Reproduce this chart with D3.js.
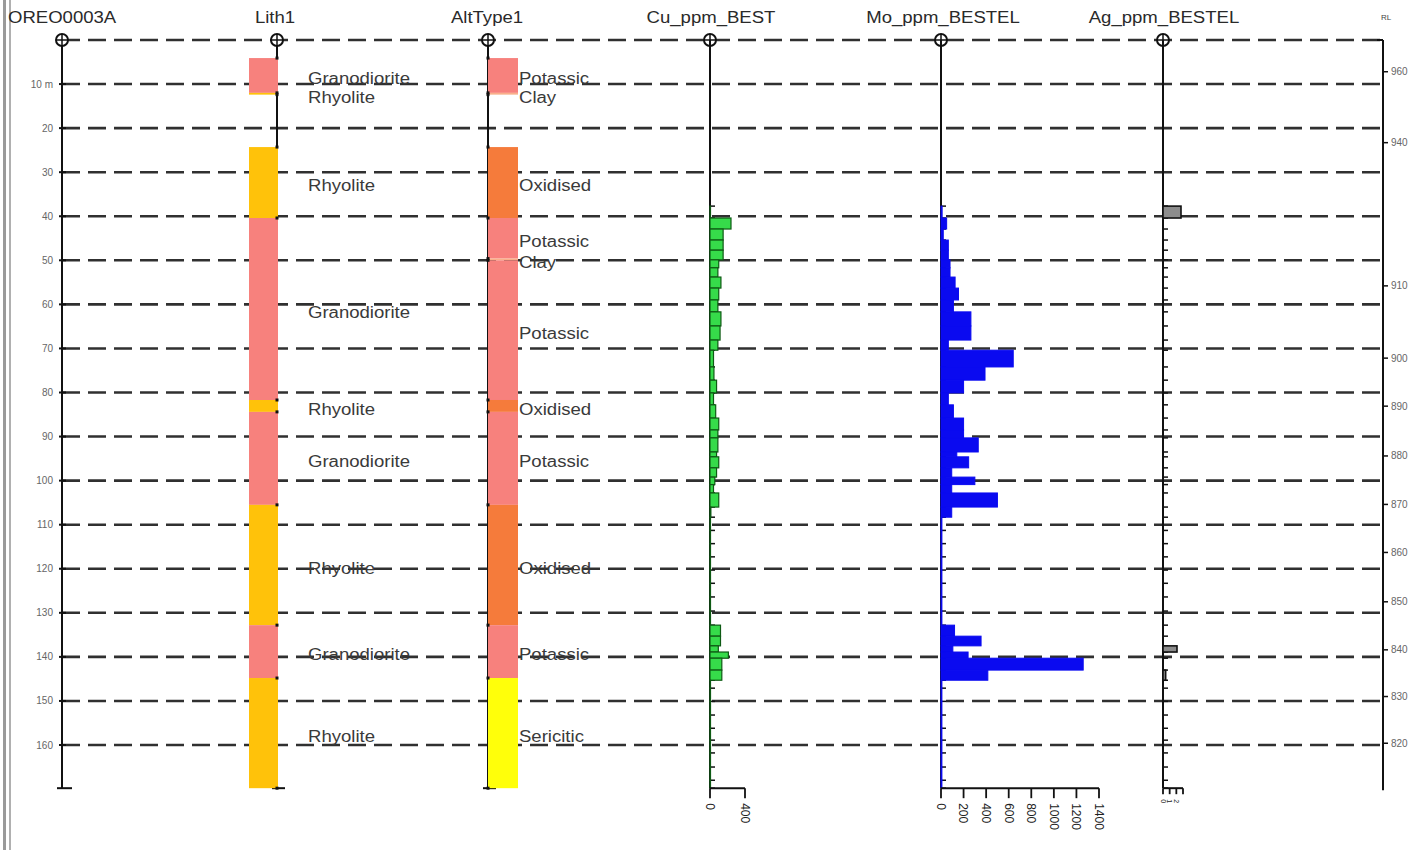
<!DOCTYPE html>
<html><head><meta charset="utf-8">
<script src="https://cdn.jsdelivr.net/npm/d3@7"></script>
<style>body{margin:0;background:#fff;} svg{display:block;} text{font-family:"Liberation Sans",Arial,sans-serif;}</style>
</head><body><svg id="c" width="1421" height="850"></svg>
<script>
// ---------------- DATA ----------------
const columnTitles = ["OREO0003A","Lith1","AltType1","Cu_ppm_BEST","Mo_ppm_BESTEL","Ag_ppm_BESTEL"];
const depthTicks = [10,20,30,40,50,60,70,80,90,100,110,120,130,140,150,160];
const depthTickLabels = ["10 m","20","30","40","50","60","70","80","90","100","110","120","130","140","150","160"];
const holeDepth = 169.8;

const lithFrom = [4.1, 12.0, 24.3, 40.4, 81.7, 84.4, 105.5, 132.8, 144.8];
const lithTo   = [12.0, 12.4, 40.4, 81.7, 84.4, 105.5, 132.8, 144.8, 169.8];
const lithCode = ["Granodiorite","Rhyolite","Rhyolite","Granodiorite","Rhyolite","Granodiorite","Rhyolite","Granodiorite","Rhyolite"];

const altFrom = [4.1, 12.0, 24.3, 40.4, 49.6, 50.0, 81.7, 84.4, 105.5, 132.8, 144.8];
const altTo   = [12.0, 12.4, 40.4, 49.6, 50.0, 81.7, 84.4, 105.5, 132.8, 144.8, 169.8];
const altCode = ["Potassic","Clay","Oxidised","Potassic","Clay","Potassic","Oxidised","Potassic","Oxidised","Potassic","Sericitic"];

const lithColors = {"Granodiorite":"#F7817D","Rhyolite":"#FFC20A"};
const altColors = {"Potassic":"#F7817D","Clay":"#F9B08A","Oxidised":"#F57B3B","Sericitic":"#FFFF0A"};

const sampleDepths = [37.7,40.4,42.9,45.4,47.7,49.9,51.7,53.8,56.3,59.0,61.7,64.9,68.1,70.4,74.2,77.2,80.1,82.8,85.8,88.5,90.3,93.5,94.6,97.1,99.2,100.9,102.8,106.0,108.3,111.3,114.3,117.3,120.3,123.3,126.4,129.6,132.8,135.3,137.5,138.9,140.3,143.0,145.3,147.1,150.1,153.2,156.2,158.9,161.8,165.0,168.0,169.8];
const cuPpm = [5,240,150,150,150,100,90,125,100,90,125,115,90,40,45,75,40,65,100,90,90,75,100,75,55,40,100,10,5,5,5,5,5,5,5,5,120,120,95,210,135,135,5,5,5,5,5,5,5,5,5];
const moPpm = [10,50,20,65,65,80,80,125,155,110,265,265,65,640,390,200,65,110,200,200,330,140,245,95,300,95,500,95,8,8,8,8,8,8,8,8,120,355,105,240,1260,415,8,8,8,8,8,8,8,8,8];
const agPpm = [2.7,0,0,0,0,0,0,0,0,0,0,0,0,0,0,0,0,0,0,0,0,0,0,0,0,0,0,0,0,0,0,0,0,0,0,0,0,0,2.1,0,0,0.4,0,0,0,0,0,0,0,0,0];

const cuTicks = [0,400];
const moTicks = [0,200,400,600,800,1000,1200,1400];
const agTicks = [0,1,2,3];
const agTickLabels = ["0","1","2",""];

const rlDepth = [7.2,23.3,55.8,72.2,83.1,94.4,105.4,116.3,127.5,138.4,149.0,159.6];
const rlLabel = ["960","940","910","900","890","880","870","860","850","840","830","820"];

// ---------------- LAYOUT ----------------
const W = 1421, H = 850;
const svg = d3.select("#c");
const y = d3.scaleLinear().domain([0,160]).range([40,745]);
const X = {depth:62, lith:277, alt:488, cu:710, mo:941, ag:1163, rl:1383};
const BOT = y(holeDepth);
const SX = 1.16;
const textCol = "#2a2a2a";

const xCu = d3.scaleLinear().domain([0,400]).range([X.cu, X.cu+35]);
const xMo = d3.scaleLinear().domain([0,1400]).range([X.mo, X.mo+158]);
const xAg = d3.scaleLinear().domain([0,3]).range([X.ag, X.ag+20]);

// window border
svg.append("rect").attr("x",3).attr("y",0).attr("width",3).attr("height",H).attr("fill","#9a9a9a");
svg.append("rect").attr("x",9).attr("y",0).attr("width",2).attr("height",H).attr("fill","#b0b0b0");

// dashed grid lines
const gridDepths = [0].concat(depthTicks);
svg.append("g").selectAll("line").data(gridDepths).join("line")
  .attr("x1",X.depth).attr("x2",X.rl)
  .attr("y1",d=>y(d)).attr("y2",d=>y(d))
  .attr("stroke","#303030").attr("stroke-width",2.6).attr("stroke-dasharray","18,8");

function stretchedText(g, x, yy, txt, size, anchor, color){
  return g.append("text").attr("transform",`translate(${x},${yy}) scale(${SX},1)`)
    .attr("text-anchor",anchor).attr("dy","0.35em")
    .attr("font-size",size).attr("fill",color||textCol).text(txt);
}

// headers
const hdr = svg.append("g");
const hdrX = [8, 275, 487, 711, 943, 1164];
columnTitles.forEach((t,i)=>{
  stretchedText(hdr, hdrX[i], 17, t, 16, i===0?"start":"middle");
});
hdr.append("text").attr("x",1386).attr("y",17).attr("dy","0.35em").attr("text-anchor","middle")
  .attr("font-size",8).attr("fill","#444").text("RL");

// depth axis
const da = svg.append("g");
da.append("line").attr("x1",X.depth).attr("x2",X.depth).attr("y1",y(0)).attr("y2",BOT)
  .attr("stroke","#111").attr("stroke-width",2);
da.append("line").attr("x1",X.depth-5).attr("x2",X.depth+10).attr("y1",BOT).attr("y2",BOT)
  .attr("stroke","#111").attr("stroke-width",2);
da.selectAll(".tk").data(depthTicks).join("line").attr("class","tk")
  .attr("x1",X.depth-3).attr("x2",X.depth+4).attr("y1",d=>y(d)).attr("y2",d=>y(d))
  .attr("stroke","#111").attr("stroke-width",2);
da.selectAll("text").data(depthTicks).join("text")
  .attr("x",53).attr("y",d=>y(d)).attr("dy","0.35em").attr("text-anchor","end")
  .attr("font-size",10).attr("fill","#666").text((d,i)=>depthTickLabels[i]);

// interval columns
function intervalColumn(from,to,codes,colors,lineX,rectX,rectW,labelX){
  const g = svg.append("g");
  g.append("line").attr("x1",lineX).attr("x2",lineX).attr("y1",y(0)).attr("y2",BOT)
    .attr("stroke","#111").attr("stroke-width",2);
  g.append("line").attr("x1",lineX-5).attr("x2",lineX+8).attr("y1",BOT).attr("y2",BOT)
    .attr("stroke","#111").attr("stroke-width",2);
  g.selectAll("rect").data(codes).join("rect")
    .attr("x",rectX).attr("width",rectW)
    .attr("y",(d,i)=>y(from[i])).attr("height",(d,i)=>y(to[i])-y(from[i]))
    .attr("fill",d=>colors[d]);
  const bnd = Array.from(new Set(from.concat(to)));
  g.selectAll(".dot").data(bnd).join("rect").attr("class","dot")
    .attr("x",lineX-1.5).attr("y",d=>y(d)-1.5).attr("width",3).attr("height",3).attr("fill","#111");
  let prev = -1e9;
  codes.forEach((c,i)=>{
    let ly = (y(from[i])+y(to[i]))/2 + 3;
    if (ly < prev + 19) ly = prev + 19;
    prev = ly;
    stretchedText(g, labelX, ly, c, 16, "start", "#3a3a3a");
  });
}
intervalColumn(lithFrom,lithTo,lithCode,lithColors,X.lith,249,29,308);
intervalColumn(altFrom,altTo,altCode,altColors,X.alt,488,30,519);

// hole markers (circles)
const mk = svg.append("g");
[X.depth,X.lith,X.alt,X.cu,X.mo,X.ag].forEach(x=>{
  mk.append("circle").attr("cx",x).attr("cy",y(0)).attr("r",6)
    .attr("fill","#fff").attr("stroke","#111").attr("stroke-width",2);
  mk.append("line").attr("x1",x).attr("x2",x).attr("y1",y(0)-6).attr("y2",y(0)+6).attr("stroke","#111").attr("stroke-width",1.5);
  mk.append("line").attr("x1",x-6).attr("x2",x+6).attr("y1",y(0)).attr("y2",y(0)).attr("stroke","#111").attr("stroke-width",1.5);
});

// samples
const samples = cuPpm.map((v,i)=>({from:sampleDepths[i],to:sampleDepths[i+1],cu:v,mo:moPpm[i],ag:agPpm[i]}));

function barColumn(key, xs, axisX, fill, stroke, sw, ticks, tickLabels, labelSize){
  const g = svg.append("g");
  g.append("line").attr("x1",axisX).attr("x2",axisX).attr("y1",y(0)).attr("y2",BOT)
    .attr("stroke","#111").attr("stroke-width",2);
  g.selectAll(".tk").data(sampleDepths).join("line").attr("class","tk")
    .attr("x1",axisX).attr("x2",axisX+5).attr("y1",d=>y(d)).attr("y2",d=>y(d))
    .attr("stroke","#111").attr("stroke-width",1.5);
  g.selectAll(".bar").data(samples.filter(s=>s[key]>0)).join("rect").attr("class","bar")
    .attr("x",axisX).attr("y",d=>y(d.from))
    .attr("width",d=>Math.max(0.5,xs(d[key])-axisX)).attr("height",d=>y(d.to)-y(d.from))
    .attr("fill",fill).attr("stroke",stroke).attr("stroke-width",sw);
  // bottom scale
  const x0 = xs(ticks[0]), x1 = xs(ticks[ticks.length-1]);
  g.append("line").attr("x1",x0).attr("x2",x1).attr("y1",BOT).attr("y2",BOT)
    .attr("stroke","#111").attr("stroke-width",2);
  const tl = labelSize < 10 ? 6 : 10;
  g.selectAll(".st").data(ticks).join("line").attr("class","st")
    .attr("x1",d=>xs(d)).attr("x2",d=>xs(d)).attr("y1",BOT).attr("y2",BOT+tl)
    .attr("stroke","#111").attr("stroke-width",1.8);
  g.selectAll(".sl").data(ticks).join("text").attr("class","sl")
    .attr("transform",d=>`translate(${xs(d)},${BOT+tl+5}) rotate(90)`)
    .attr("dy","0.35em").attr("text-anchor","start")
    .attr("font-size",labelSize).attr("fill","#222")
    .text((d,i)=>tickLabels ? tickLabels[i] : d);
}
barColumn("cu", xCu, X.cu, "#36DB4A", "#0E5A14", 1.2, cuTicks, null, 12);
barColumn("mo", xMo, X.mo, "#0A0AF0", "#0A0AF0", 1, moTicks, null, 12);
barColumn("ag", xAg, X.ag, "#8C8C8C", "#111", 1.6, agTicks, agTickLabels, 7);

// RL axis
const rl = svg.append("g");
rl.append("line").attr("x1",X.rl).attr("x2",X.rl).attr("y1",y(0)).attr("y2",BOT+2)
  .attr("stroke","#111").attr("stroke-width",2);
rl.append("line").attr("x1",X.rl-6).attr("x2",X.rl).attr("y1",y(0)).attr("y2",y(0))
  .attr("stroke","#111").attr("stroke-width",2);
rl.selectAll(".tk").data(rlDepth).join("line").attr("class","tk")
  .attr("x1",X.rl).attr("x2",X.rl+5).attr("y1",d=>y(d)).attr("y2",d=>y(d))
  .attr("stroke","#111").attr("stroke-width",1.5);
rl.selectAll("text").data(rlDepth).join("text")
  .attr("x",X.rl+8).attr("y",d=>y(d)).attr("dy","0.35em")
  .attr("font-size",10).attr("fill","#666").text((d,i)=>rlLabel[i]);
</script>
</body></html>
